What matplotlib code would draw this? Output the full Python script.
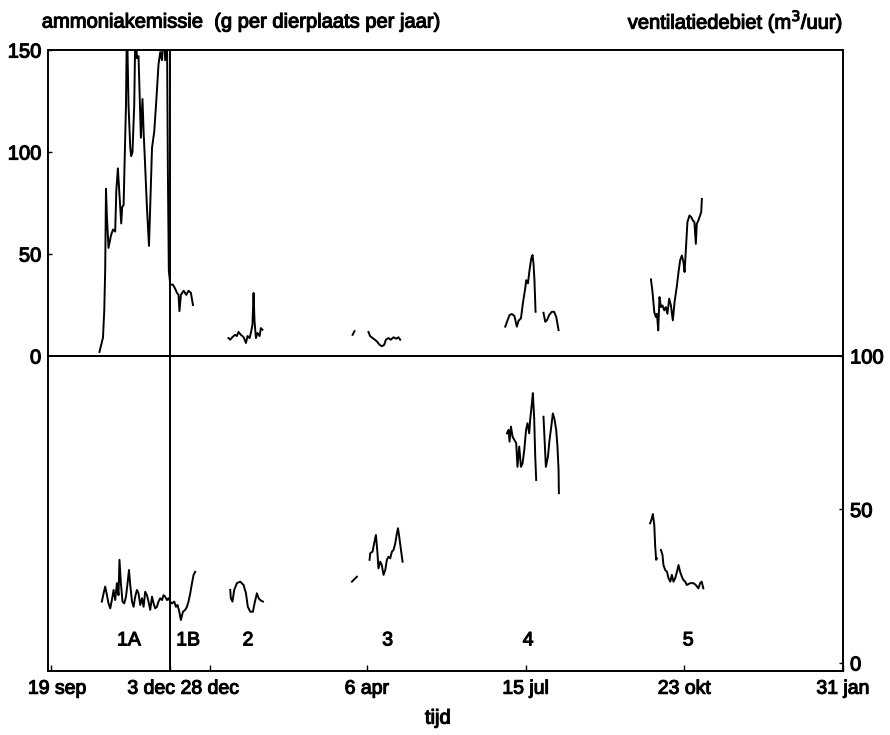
import numpy as np
import matplotlib
matplotlib.use("Agg")
import matplotlib.pyplot as plt
import matplotlib.transforms as mtransforms
import matplotlib.patheffects as pe

plt.rcParams['font.family'] = ['Liberation Sans', 'DejaVu Sans']
plt.rcParams['font.size'] = 14

nan = np.nan

# x positions: days since 19 sep
tick_days = [0, 75, 100, 199, 299, 399, 499]
tick_labels = ["19 sep", "3 dec", "28 dec", "6 apr", "15 jul", "23 okt", "31 jan"]

# ---------------------------------
# top: ammoniakemissie (g per dierplaats per jaar)
# ---------------------------------
nh3_1_days = [30.4, 32.6, 33.4, 34.0, 34.5, 35.1, 36.1, 37.6, 38.9, 40.3,
              41.0, 42.0, 43.0, 44.1, 44.7, 45.6, 46.2, 47.1, 47.7, 48.7,
              49.8, 50.4, 51.2, 52.3, 53.1, 54.0, 55.0, 55.6, 56.5, 57.5,
              58.2, 58.8, 60.3, 61.6, 62.4, 63.5, 64.9, 66.2, 67.6, 68.7,
              69.8, 70.8, 71.8, 72.9, 73.5, 74.1, 75.0, 76.7, 78.1, 79.2,
              80.2, 80.8, 81.7, 83.4, 85.1, 86.5, 88.0, 89.3]
nh3_1 = [2, 9, 22, 42, 82, 68, 53, 59, 62, 61,
         81, 92, 79, 65, 73, 74, 94, 123, 165, 123,
         102, 98, 100, 123, 165, 146, 147, 131, 107, 126,
         110, 100, 73, 54, 74, 102, 110, 125, 143, 149,
         145, 160, 145, 165, 91, 42, 35, 35, 33, 31,
         30, 22, 30, 32, 30, 32, 31, 25]

nh3_2_days = [111.7, 112.8, 114.2, 115.9, 117, 118, 119.5, 121.2, 122.7, 123.7,
              125, 125.8, 126.8, 127.5, 128.1, 129, 130, 131.3, 132.1, 133.1]
nh3_2 = [8.8, 8, 9.3, 10.4, 9.8, 11.8, 10.4, 9.3, 6.4, 9.8,
         8.8, 11.3, 15.3, 30.9, 17.1, 8.8, 11.3, 9.8, 13.7, 12.9]

nh3_3_days = [189.9, 191.1, nan, 199.9, 201, 203.1, 205.2, 206.9, 208.4, 209.8,
              210.9, 212.5, 214, 215.7, 217.4, 218.8, 219.9]
nh3_3 = [10.4, 12.2, nan, 11.8, 9.7, 8.5, 7.2, 5.5, 4.8, 5.5,
         8, 8.8, 8, 9.2, 8.5, 9.2, 8]

nh3_4_days = [286.1, 287.2, 288.8, 290.3, 291.9, 293.4, 294.5, 296, 297.2, 298.7,
              299.3, 300.4, 301.4, 302.5, 303.3, 303.9, 304.5, 305.2, nan,
              310.2, 311.3, 312.4, 313.8, 315.5, 316.9, 318.2, 319.7]
nh3_4 = [14.4, 16.8, 20.1, 20.6, 19.6, 14.4, 17.3, 18.5, 25.8, 33.2,
         37.2, 35.6, 42.1, 47.9, 49.5, 45.4, 37.2, 21.7, nan,
         21.2, 16.8, 17.6, 20.1, 21.7, 21.7, 19.3, 12.7]

nh3_5_days = [377.9, 378.9, 380, 381, 381.7, 382.5, 383.3, 384.2, 385.2, 386.3,
              387.3, 388.3, 389.4, 390.5, 391.7, 392.8, 394.3, 395.3, 396.3, 397.4,
              398.4, 399.1, 399.9, 400.9, 402.2, 403.3, 404.3, 405.3, 406.2, 406.8,
              407.8, 408.9, 409.6, 410]
nh3_5 = [37.6, 31.4, 21.6, 19.1, 20.7, 12.6, 28.9, 24, 24.8, 22.4,
         24, 20.7, 28.1, 24.8, 17.5, 26.5, 34.6, 41.2, 46.9, 49.3,
         46, 41.2, 51.8, 65.7, 68.9, 68.1, 66.5, 65.7, 55, 64.8,
         66.5, 68.9, 70.6, 77]

# ---------------------------------
# bottom: ventilatiedebiet (m3/uur)
# ---------------------------------
vent_1_days = [31.9, 33, 34, 35.1, 36.1, 37.2, 38.2, 39.3, 40.3, 41.4,
               42.4, 43, 43.9, 44.9, 46, 47.1, 48.1, 49, 49.8, 50.9,
               51.9, 52.9, 54, 55, 56.1, 57.2, 58.2, 59.2, 60.3, 61.3,
               62.4, 63.5, 64.5, 65.5, 66.6, 67.6, 68.7, 69.8, 70.8, 71.8,
               72.9, 73.9, 75, 76.1, 77.5, 78.6, 79.6, 80.7, 81.7, 83,
               84.4, 85.5, 86.5, 87.6, 88.7, 89.7, 90.7]
vent_1 = [20, 22.7, 24.9, 22.1, 19.4, 17.8, 20.5, 23.8, 20.5, 26,
          22.1, 33.6, 26, 20, 19.4, 21.6, 26, 30.3, 25.4, 20,
          18.3, 21.6, 23.8, 22.7, 18.9, 21.1, 18.3, 23.2, 22.1, 20,
          17.3, 21.6, 19.4, 17.8, 18.3, 20, 21.1, 20.5, 22.1, 21.6,
          20.5, 21.1, 20, 19.4, 20, 18.3, 18.9, 16.7, 14, 16.7,
          17.3, 18.3, 20, 22.7, 26, 28.7, 29.7]

vent_2_days = [112.8, 113.2, 114.2, 115.3, 117, 119.1, 121.2, 122.7, 123.9, 125.4,
               127.1, 128.1, 129.6, 130.7, 131.7, 133.4]
vent_2 = [23.8, 21.1, 20, 23.8, 26, 26.5, 25.4, 22.7, 18.3, 16.7,
          16.7, 19.4, 22.7, 21.1, 20.5, 20]

vent_3_days = [189.5, 192.6, nan, 200.6, 201, 202.5, 203.7, 204.6, 205.6, 206.2,
               207.3, 208.3, 209.4, 210.5, 211.5, 212.5, 213.6, 214.7, 215.7, 216.8,
               217.8, 218.5, 219.3, 220.4, 221.4]
vent_3 = [26.5, 28.1, nan, 33.6, 35.7, 36.3, 39.5, 41.7, 35.7, 30.8,
          33, 31.9, 28.7, 30.3, 33.6, 34.6, 34.1, 36.3, 36.8, 39,
          42.2, 43.9, 41.1, 36.8, 33]

vent_4_days = [287.2, 288.2, 288.8, 289.7, 290.7, 291.9, 293, 293.8, 294.9, 296,
               297, 298.1, 299.2, 300.1, 301.2, 301.8, 302.9, 303.5, 304.3, 305,
               305.6, nan, 310.2, 310.8, 311.7, 313, 314, 315.1, 316.1, 317.2,
               318.2, 319, 319.7, 319.9]
vent_4 = [74.8, 75.9, 72.1, 77, 73.7, 72.6, 71.6, 63.9, 70.5, 63.9,
          65, 69.4, 75.9, 78.1, 74.8, 79.2, 84.6, 87.9, 80.2, 67.2,
          59.6, nan, 80.2, 73.7, 63.9, 67.2, 72.6, 77, 81.3, 79.2,
          75.9, 70.5, 62.9, 55.3]

vent_5_days = [377.4, 378.5, 379.1, 380, 380.6, 381.2, 381.7, nan, 384.2, 385.2,
               385.8, 386.9, 388, 389, 390.1, 391.1, 392.1, 393.2, 394.3, 395.3,
               396.3, 397.4, 398.4, 399.5, 400.5, 402.6, 404.7, 406.2, 407.8, 408.9,
               409.9, 410.9]
vent_5 = [45.5, 47.1, 48.5, 45, 37.9, 33.6, 34.1, nan, 36.8, 35.2,
          31.9, 30.3, 29.7, 27.6, 26.5, 28.7, 26.5, 27.6, 29.7, 31.9,
          29.7, 28.1, 27, 26.5, 25.4, 26, 26, 25.4, 24.3, 26,
          26.5, 24.3]

period_labels = ["1A", "1B", "2", "3", "4", "5"]
period_days = [49, 86.3, 124, 212, 300.6, 401.4]

# ---------------------------------
# figure
# ---------------------------------
heavy = [pe.withStroke(linewidth=0.8, foreground="black")]

fig = plt.figure(figsize=(8.9, 7.35), dpi=100)
ax_top = fig.add_axes([0.054, 0.5156, 0.8933, 0.4163])
ax_bot = fig.add_axes([0.054, 0.0871, 0.8933, 0.4286], sharex=ax_top)

lw = 1.4
for d, v in [(nh3_1_days, nh3_1), (nh3_2_days, nh3_2), (nh3_3_days, nh3_3),
             (nh3_4_days, nh3_4), (nh3_5_days, nh3_5)]:
    ax_top.plot(d, v, color="black", lw=lw)
for d, v in [(vent_1_days, vent_1), (vent_2_days, vent_2), (vent_3_days, vent_3),
             (vent_4_days, vent_4), (vent_5_days, vent_5)]:
    ax_bot.plot(d, v, color="black", lw=lw)

ax_top.axvline(75, color="black", lw=1.4)
ax_bot.axvline(75, color="black", lw=1.4)

ax_top.set_xlim(-2, 499)
ax_top.set_ylim(0, 150)
ax_bot.set_ylim(-2.6, 100)

ax_top.set_yticks([0, 50, 100, 150])
ax_top.tick_params(axis="y", direction="in", length=3, width=1, labelsize=14.5, pad=5)
ax_top.tick_params(axis="x", bottom=False, labelbottom=False)

ax_bot.yaxis.tick_right()
ax_bot.set_yticks([0, 50, 100])
ax_bot.tick_params(axis="y", direction="in", length=3, width=1, labelsize=14.5, pad=5)
ax_bot.set_xticks(tick_days)
ax_bot.set_xticklabels(tick_labels)
ax_bot.tick_params(axis="x", direction="in", length=4, width=1, labelsize=14, pad=7)

# nudge the first two date labels like in the original
xlabs = ax_bot.get_xticklabels()
xlabs[0].set_transform(xlabs[0].get_transform() +
                       mtransforms.ScaledTranslation(6 / 100, 0, fig.dpi_scale_trans))
xlabs[1].set_ha("right")
xlabs[1].set_transform(xlabs[1].get_transform() +
                       mtransforms.ScaledTranslation(5 / 100, 0, fig.dpi_scale_trans))

for ax in (ax_top, ax_bot):
    for s in ax.spines.values():
        s.set_linewidth(1.4)
    for t in ax.get_xticklabels() + ax.get_yticklabels():
        t.set_path_effects(heavy)

for lab, d in zip(period_labels, period_days):
    ax_bot.text(d, 7.2, lab, ha="center", va="center", fontsize=14,
                path_effects=heavy)

fig.text(0.047, 0.970, "ammoniakemissie  (g per dierplaats per jaar)",
         ha="left", va="center", fontsize=14.5, path_effects=heavy)
fig.text(0.947, 0.970, "ventilatiedebiet (m$^3$/uur)",
         ha="right", va="center", fontsize=14.5, path_effects=heavy)
fig.text(0.492, 0.023, "tijd", ha="center", va="center", fontsize=14.5,
         path_effects=heavy)

fig.savefig("out.png", dpi=100, facecolor="white")
